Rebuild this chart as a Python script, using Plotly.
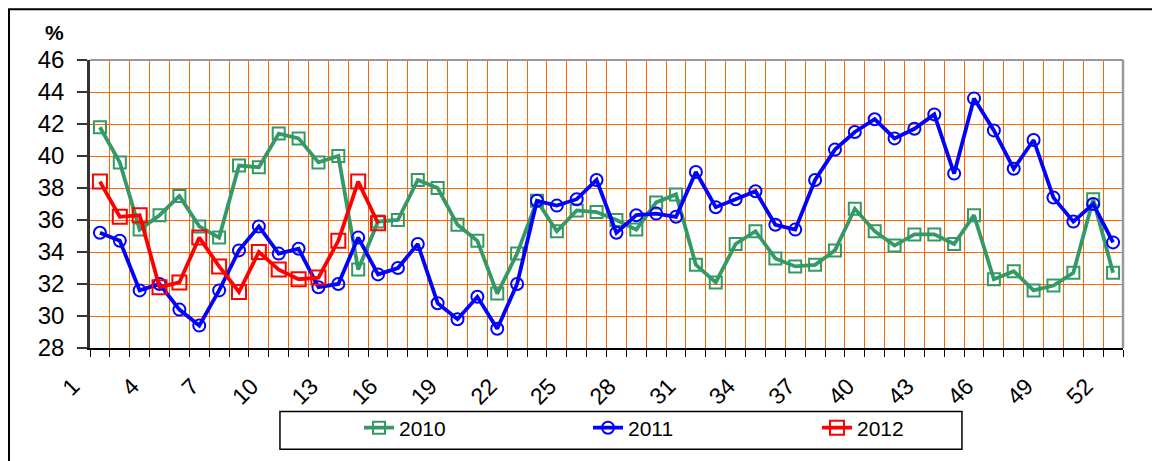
import plotly.graph_objects as go

weeks = list(range(1, 53))
tick_weeks = list(range(1, 53, 3))

y2010 = [41.8, 39.6, 35.4, 36.3, 37.5, 35.6, 34.9, 39.4, 39.3, 41.4,
         41.1, 39.6, 40.0, 32.9, 35.9, 36.0, 38.5, 38.0, 35.7, 34.7,
         31.4, 33.9, 37.2, 35.3, 36.6, 36.5, 36.0, 35.4, 37.1, 37.6,
         33.2, 32.1, 34.5, 35.3, 33.6, 33.1, 33.2, 34.1, 36.7, 35.3,
         34.4, 35.1, 35.1, 34.5, 36.3, 32.3, 32.8, 31.6, 31.9, 32.7,
         37.3, 32.7]
y2011 = [35.2, 34.7, 31.6, 32.0, 30.4, 29.4, 31.6, 34.1, 35.6, 33.9,
         34.2, 31.8, 32.0, 34.9, 32.6, 33.0, 34.5, 30.8, 29.8, 31.2,
         29.2, 32.0, 37.2, 36.9, 37.3, 38.5, 35.2, 36.3, 36.4, 36.2,
         39.0, 36.8, 37.3, 37.8, 35.7, 35.4, 38.5, 40.4, 41.5, 42.3,
         41.1, 41.7, 42.6, 38.9, 43.6, 41.6, 39.2, 41.0, 37.4, 35.9,
         37.0, 34.6]
y2012 = [38.4, 36.2, 36.3, 31.8, 32.1, 34.9, 33.1, 31.5, 34.0, 32.9,
         32.3, 32.4, 34.7, 38.4, 35.8]

GREEN = "#339966"
BLUE = "#0000FF"
RED = "#FF0000"
GRID = "#FF6600"
FONT = "Liberation Sans, Arial, sans-serif"

fig = go.Figure()

# 2010 and 2011 first, 2012 on top like in the original
fig.add_trace(go.Scatter(
    x=weeks, y=y2010, name="2010", mode="lines+markers",
    line=dict(color=GREEN, width=3.8),
    marker=dict(symbol="square-open", size=12, color=GREEN, line=dict(width=2)),
))
fig.add_trace(go.Scatter(
    x=weeks, y=y2011, name="2011", mode="lines+markers",
    line=dict(color=BLUE, width=3.8),
    marker=dict(symbol="circle-open", size=12, color=BLUE, line=dict(width=2)),
))
fig.add_trace(go.Scatter(
    x=weeks[:len(y2012)], y=y2012, name="2012", mode="lines+markers",
    line=dict(color=RED, width=3.8),
    marker=dict(symbol="square-open", size=14, color=RED, line=dict(width=2)),
))

fig.update_xaxes(
    range=[0.5, 52.5], automargin=False,
    tickmode="array", tickvals=tick_weeks, ticktext=[str(w) for w in tick_weeks],
    tickangle=-45, ticks="", showgrid=False, zeroline=False,
    ticklabelshift=-27, ticklabelstandoff=14,
    tickfont=dict(family=FONT, size=23, color="#000000"),
    showline=True, linecolor="#000000", linewidth=1.5,
    minor=dict(tickmode="linear", tick0=0.5, dtick=1, ticks="outside", ticklen=7,
               tickcolor="#000000", tickwidth=1,
               showgrid=True, gridcolor=GRID, gridwidth=1),
)
fig.update_yaxes(
    range=[28, 46], dtick=2, ticks="outside", ticklen=10, tickcolor="#333333",
    tickwidth=1.5, showgrid=True, gridcolor=GRID, gridwidth=1, zeroline=False,
    showline=True, linecolor="#333333", linewidth=2.5, automargin=False,
    ticklabelstandoff=8,
    tickfont=dict(family=FONT, size=24, color="#000000"),
)

# the page body keeps an 8px margin; the bottom margin leaves room for the legend
fig.update_layout(
    width=1144, height=453,
    margin=dict(l=82, r=29, t=52, b=111),
    paper_bgcolor="white", plot_bgcolor="white",
    showlegend=True,
    legend=dict(
        orientation="h", x=0.2604, y=-0.278, xanchor="left", yanchor="middle",
        bgcolor="rgba(0,0,0,0)", borderwidth=0,
        entrywidth=184, entrywidthmode="pixels",
        font=dict(family=FONT, size=21, color="#000000"),
    ),
    annotations=[dict(
        text="<b>%</b>", x=-0.034, y=1.05, xref="paper", yref="paper",
        xanchor="center", yanchor="bottom", showarrow=False,
        font=dict(family=FONT, size=21, color="#000000"),
    )],
    shapes=[
        # outer chart frame, cut by the picture edges
        dict(type="rect", xref="paper", yref="paper",
             x0=-0.0784, x1=1.2, y0=-0.5, y1=1.1759,
             line=dict(color="#000000", width=2)),
        # legend box
        dict(type="rect", xref="paper", yref="paper",
             x0=0.1839, x1=0.8441, y0=-0.3517, y1=-0.2207,
             line=dict(color="#000000", width=1.5)),
        # plot frame top and right
        dict(type="line", xref="paper", yref="paper", x0=0, x1=1, y0=1, y1=1,
             line=dict(color="#999999", width=2)),
        dict(type="line", xref="paper", yref="paper", x0=1, x1=1, y0=0, y1=1,
             line=dict(color="#999999", width=2.5)),
    ],
)

fig.write_html("out.html")
